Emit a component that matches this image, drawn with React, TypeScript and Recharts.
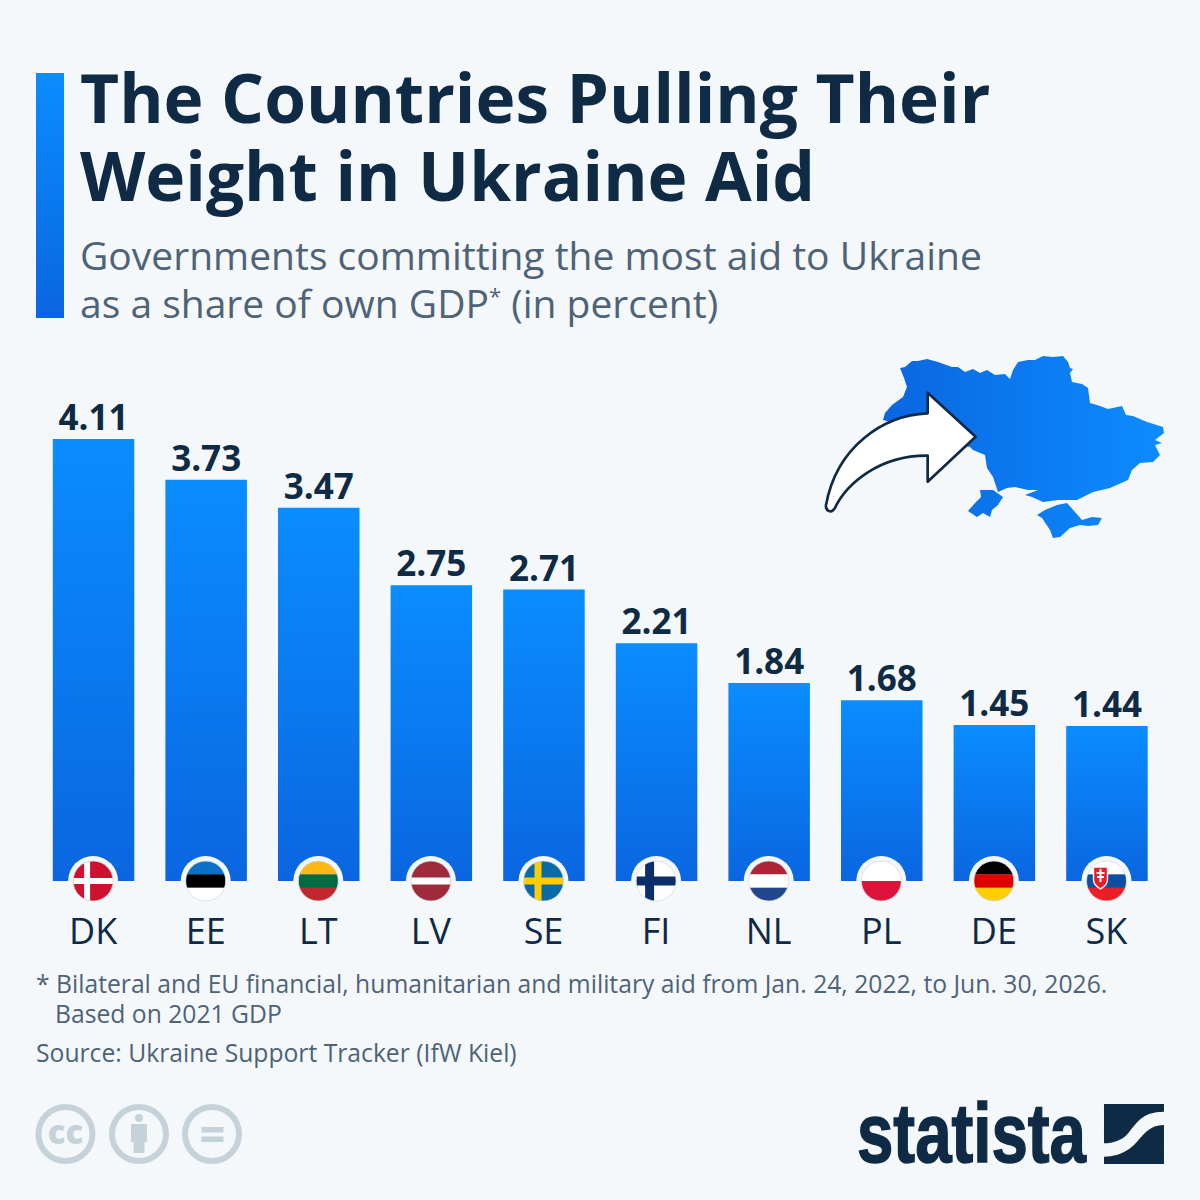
import React from "react";
import { BarChart, Bar, XAxis, YAxis, LabelList } from "recharts";

const countries = ["DK", "EE", "LT", "LV", "SE", "FI", "NL", "PL", "DE", "SK"];
const aidShare = [4.11, 3.73, 3.47, 2.75, 2.71, 2.21, 1.84, 1.68, 1.45, 1.44];
const titleLines = ["The Countries Pulling Their", "Weight in Ukraine Aid"];
const subtitleLines = ["Governments committing the most aid to Ukraine", "as a share of own GDP"];
const footnoteLines = [
  "* Bilateral and EU financial, humanitarian and military aid from Jan. 24, 2022, to Jun. 30, 2026.",
  "Based on 2021 GDP",
];
const sourceLine = "Source: Ukraine Support Tracker (IfW Kiel)";

const chartData = countries.map((code, i) => ({ code, value: aidShare[i] }));

const BG = "#f4f8fb";
const NAVY = "#0f2a45";
const FONT = "'Open Sans', sans-serif";

function bands(x: number, colors: string[]) {
  const h = 40 / colors.length;
  return colors.map((c, i) => <rect key={i} x={x - 20} y={-20 + i * h} width={40} height={h + 0.3} fill={c} />);
}

function FlagArt({ code }: { code: string }) {
  switch (code) {
    case "DK":
      return (
        <>
          <rect x={-20} y={-20} width={40} height={40} fill="#d0102f" />
          <rect x={-9} y={-20} width={6} height={40} fill="#fff" />
          <rect x={-20} y={-3} width={40} height={6} fill="#fff" />
        </>
      );
    case "EE":
      return <>{bands(0, ["#0a72c6", "#000000", "#ffffff"])}</>;
    case "LT":
      return <>{bands(0, ["#fdb913", "#006a44", "#c1272d"])}</>;
    case "LV":
      return (
        <>
          <rect x={-20} y={-20} width={40} height={40} fill="#9e2a3a" />
          <rect x={-20} y={-3.5} width={40} height={7} fill="#fff" />
        </>
      );
    case "SE":
      return (
        <>
          <rect x={-20} y={-20} width={40} height={40} fill="#0a6aa6" />
          <rect x={-9} y={-20} width={7} height={40} fill="#fecc02" />
          <rect x={-20} y={-3.5} width={40} height={7} fill="#fecc02" />
        </>
      );
    case "FI":
      return (
        <>
          <rect x={-20} y={-20} width={40} height={40} fill="#fff" />
          <rect x={-11} y={-20} width={9} height={40} fill="#0a2f6b" />
          <rect x={-20} y={-4.5} width={40} height={9} fill="#0a2f6b" />
        </>
      );
    case "NL":
      return <>{bands(0, ["#ae2336", "#ffffff", "#21468b"])}</>;
    case "PL":
      return <>{bands(0, ["#ffffff", "#dc143c"])}</>;
    case "DE":
      return <>{bands(0, ["#000000", "#dd0000", "#ffce00"])}</>;
    case "SK":
      return (
        <>
          {bands(0, ["#ffffff", "#0b4ea2", "#ee1c25"])}
          <path d="M-13,-14 H1 V-1 C1,4 -3,6 -6,8 C-9,6 -13,4 -13,-1 Z" fill="#ee1c25" stroke="#fff" strokeWidth={1.4} />
          <rect x={-7} y={-12} width={2} height={13} fill="#fff" />
          <rect x={-10} y={-9} width={8} height={2} fill="#fff" />
          <rect x={-9.5} y={-5} width={7} height={2} fill="#fff" />
        </>
      );
    default:
      return null;
  }
}

function FlagTick(props: any) {
  const { x, y, payload } = props;
  const code = payload.value as string;
  return (
    <g transform={`translate(${x},${y})`}>
      <circle r={25} cy={0} fill={BG} />
      <clipPath id={`flag-${code}`}>
        <circle r={20} />
      </clipPath>
      <g clipPath={`url(#flag-${code})`}>
        <FlagArt code={code} />
      </g>
      <circle r={20} fill="none" stroke="#d5dbe0" strokeWidth={0.8} />
      <text x={0} y={63} textAnchor="middle" fontFamily={FONT} fontSize={36} fill={NAVY}>
        {code}
      </text>
    </g>
  );
}

const MAP_MAIN =
  "M883,420 L885,413 892,405 903,397 907,387 904,378 900,368 905,367 912,361 918,361 927,359 938,362 952,367 958,367 965,372 973,369 980,373 987,370 995,375 1005,374 1010,379 1013,370 1018,362 1028,360 1035,360 1043,356 1053,357 1063,356 1068,362 1070,368 1073,369 1070,373 1072,382 1082,384 1088,388 1090,403 1100,406 1108,409 1122,406 1126,415 1133,416 1147,422 1163,427 1164,433 1155,440 1162,443 1155,445 1160,455 1153,462 1140,463 1132,470 1128,480 1110,488 1093,492 1083,497 1077,500 1058,500 1043,502 1032,497 1025,495 1038,490 1028,490 1015,487 1007,488 998,492 993,477 987,468 985,455 973,450 970,447 960,445 920,430 Z";
const MAP_ODESA =
  "M980,490 L993,490 1003,497 998,505 992,510 990,517 983,513 977,517 968,511 975,503 981,497 Z";
const MAP_CRIMEA =
  "M1037,515 L1045,510 1057,505 1067,503 1075,512 1082,520 1092,517 1102,518 1098,525 1088,526 1080,525 1070,528 1060,537 1053,538 1050,530 1042,518 Z";

function Decor() {
  return (
    <svg width={1200} height={1200} style={{ position: "absolute", left: 0, top: 0 }}>
      <defs>
        <linearGradient id="accent" x1="0" y1="0" x2="0" y2="1">
          <stop offset="0" stopColor="#0a8dff" />
          <stop offset="1" stopColor="#0a66e0" />
        </linearGradient>
        <linearGradient id="mapFill" gradientUnits="userSpaceOnUse" x1="883" y1="0" x2="1164" y2="0">
          <stop offset="0" stopColor="#0a66e0" />
          <stop offset="1" stopColor="#0d8cff" />
        </linearGradient>
      </defs>
      <rect x={36} y={73} width={28} height={245} fill="url(#accent)" />
      <g fontFamily={FONT} fill={NAVY} fontWeight={700} fontSize={67.6}>
        <text x={80} y={123}>{titleLines[0]}</text>
        <text x={80} y={201}>{titleLines[1]}</text>
      </g>
      <g fontFamily={FONT} fill="#4e6377" fontSize={39}>
        <text x={80} y={270}>{subtitleLines[0]}</text>
        <text x={80} y={318}>
          {subtitleLines[1]}
          <tspan fontSize={22} dy={-14}>*</tspan>
          <tspan dy={14}> (in percent)</tspan>
        </text>
      </g>
      <g fontFamily={FONT} fill="#4e6377" fontSize={24.7}>
        <text x={36} y={992.5}>{footnoteLines[0]}</text>
        <text x={55} y={1022.5}>{footnoteLines[1]}</text>
        <text x={36} y={1061.5}>{sourceLine}</text>
      </g>

      <path fill="url(#mapFill)" d={MAP_MAIN} />
      <path fill="url(#mapFill)" d={MAP_ODESA} />
      <path fill="url(#mapFill)" d={MAP_CRIMEA} />
      <g transform="translate(800,340) scale(0.3333)">
        <path
          fill="#fff"
          stroke={NAVY}
          strokeWidth={8}
          strokeLinejoin="round"
          d="M527,290 L383,158 L383,220 C250,225 110,320 78,495 C76,515 95,520 104,505 C140,430 240,345 383,347 L383,425 Z"
        />
      </g>

      <g fill="none" stroke="#c6d2da" strokeWidth={6}>
        <circle cx={65.5} cy={1134} r={27} />
        <circle cx={139} cy={1134} r={27} />
        <circle cx={212} cy={1134} r={27} />
      </g>
      <text x={65.5} y={1143.5} textAnchor="middle" fontFamily={FONT} fontWeight={800} fontSize={33} fill="#c6d2da">
        cc
      </text>
      <g fill="#c6d2da">
        <circle cx={139} cy={1118} r={4} />
        <rect x={131} y={1124} width={16} height={18} />
        <rect x={133.5} y={1140} width={11} height={13} />
        <rect x={201.5} y={1127} width={22} height={5.5} />
        <rect x={201.5} y={1136.5} width={22} height={5.5} />
      </g>

      <text
        x={857}
        y={1162}
        fontFamily="'Liberation Sans Narrow', 'Liberation Sans', sans-serif"
        fontWeight={700}
        fontSize={83}
        textLength={229}
        lengthAdjust="spacingAndGlyphs"
        fill={NAVY}
        stroke={NAVY}
        strokeWidth={1.5}
      >
        statista
      </text>
      <g transform="translate(840,1090) scale(0.3333)" fill={NAVY}>
        <path d="M792,42 H972 V65 C905,65 890,100 860,135 C845,150 820,160 792,160 Z" />
        <path d="M972,105 V222 H792 V200 C850,200 880,170 900,145 C925,115 945,105 972,105 Z" />
      </g>
    </svg>
  );
}

export default function App() {
  return (
    <div style={{ position: "absolute", left: 0, top: 0, width: 1200, height: 1200, background: BG, overflow: "hidden" }}>
      <Decor />
      <div style={{ position: "absolute", left: 0, top: 0 }}>
        <BarChart
          width={1200}
          height={1200}
          data={chartData}
          margin={{ top: 397, left: 36.8, right: 37.2, bottom: 259 }}
          barCategoryGap={0}
        >
          <defs>
            <linearGradient id="barFill" x1="0" y1="0" x2="0" y2="1">
              <stop offset="0" stopColor="#0a8dff" />
              <stop offset="1" stopColor="#0a66e0" />
            </linearGradient>
          </defs>
          <YAxis hide domain={[0, 4.5]} />
          <Bar dataKey="value" barSize={81.5} fill="url(#barFill)" isAnimationActive={false}>
            <LabelList
              dataKey="value"
              position="top"
              offset={9}
              formatter={(v: number) => v.toFixed(2)}
              style={{ fontFamily: FONT, fontWeight: 700, fontSize: 35, fill: NAVY }}
            />
          </Bar>
          <XAxis dataKey="code" height={60} axisLine={false} tickLine={false} tickSize={0} tickMargin={0} interval={0} tick={<FlagTick />} />
        </BarChart>
      </div>
    </div>
  );
}
